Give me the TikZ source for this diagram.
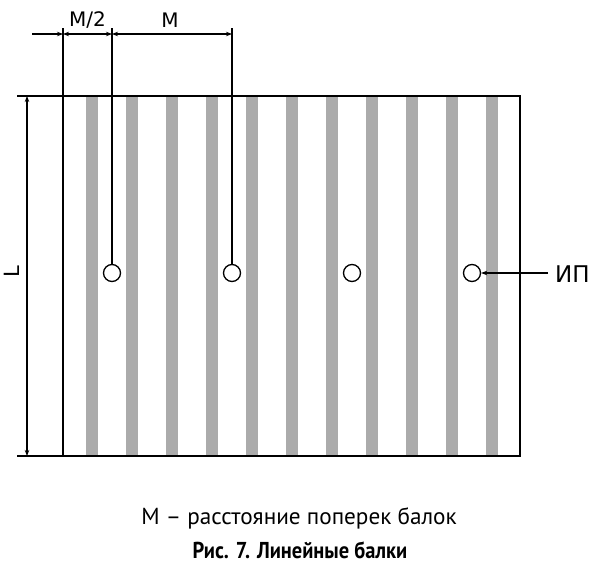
\documentclass[tikz,border=0pt]{standalone}
\usepackage{fontspec}
\setmainfont{DejaVu Sans}
\newfontfamily\capfont{PT Sans}
\usetikzlibrary{arrows.meta}
\definecolor{stripegray}{RGB}{171,171,171}
\tikzset{
  line/.style={line width=1.3pt,black},
  dimarrow/.style={line width=1.1pt,-{Stealth[length=6pt,width=4.5pt]}},
  dimboth/.style={line width=1.1pt,{Stealth[length=6pt,width=4.5pt]}-{Stealth[length=6pt,width=4.5pt]}},
  probe/.style={circle,draw,line width=1.3pt,minimum size=17pt,inner sep=0pt,fill=white},
  stripe/.style={fill=stripegray,draw=none},
  lab/.style={font=\fontsize{20}{23}\selectfont,inner sep=0pt},
}
\begin{document}
\begin{tikzpicture}[x=1pt,y=-1pt]
\useasboundingbox (0,0) rectangle (600,570);
% stripes
\foreach \i in {0,...,10}{
  \fill[stripe] ({86+40*\i},96) rectangle ({98+40*\i},456);
}
% rectangle
\coordinate (tl) at (63,96);
\coordinate (tr) at (520,96);
\coordinate (br) at (520,456);
\coordinate (bl) at (63,456);
\coordinate (tlx) at (17,96);
\coordinate (blx) at (17,456);
\draw[line] (tlx) -- (tr) -- (br) -- (blx);
% left edge extended up
\coordinate (v0) at (63,28);
\draw[line] (v0) -- (bl);
% probes
\node[probe] (c1) at (112,273) {};
\node[probe] (c2) at (232,273) {};
\node[probe] (c3) at (352,273) {};
\node[probe] (c4) at (472,273) {};
\coordinate (v1) at (112,28);
\coordinate (v2) at (232,28);
\draw[line] (v1) -- (c1.north);
\draw[line] (v2) -- (c2.north);
% top dimensions
\coordinate (d0) at (32,34);
\coordinate (d1) at (63,34);
\coordinate (d2) at (112,34);
\coordinate (d3) at (232,34);
\draw[dimarrow] (d0) -- (d1);
\draw[dimboth] (d1) -- (d2);
\draw[dimboth] (d2) -- (d3);
\node[lab] (mhalf) at (87.5,20) {M/2};
\node[lab] (mfull) at (170,20) {M};
% L dimension
\coordinate (la) at (27,96);
\coordinate (lb) at (27,456);
\draw[dimboth] (la) -- (lb);
\node[lab,rotate=90,font=\fontsize{21}{24}\selectfont] (L) at (12,272) {L};
% IP label
\node[lab,anchor=west,font=\fontsize{23}{26}\selectfont] (ip) at (555,274) {ИП};
\coordinate (ipa) at (548,273);
\draw[dimarrow] (ipa) -- (c4.east);
% captions
\node[font=\capfont\fontsize{23.2}{26}\selectfont,inner sep=0pt] (cap1) at (299,518) {М – расстояние поперек балок};
\node[font=\capfont\bfseries\fontsize{23}{26}\selectfont,inner sep=0pt,xscale=0.89] (cap2) at (300,550) {Рис. 7. Линейные балки};
\end{tikzpicture}
\end{document}
